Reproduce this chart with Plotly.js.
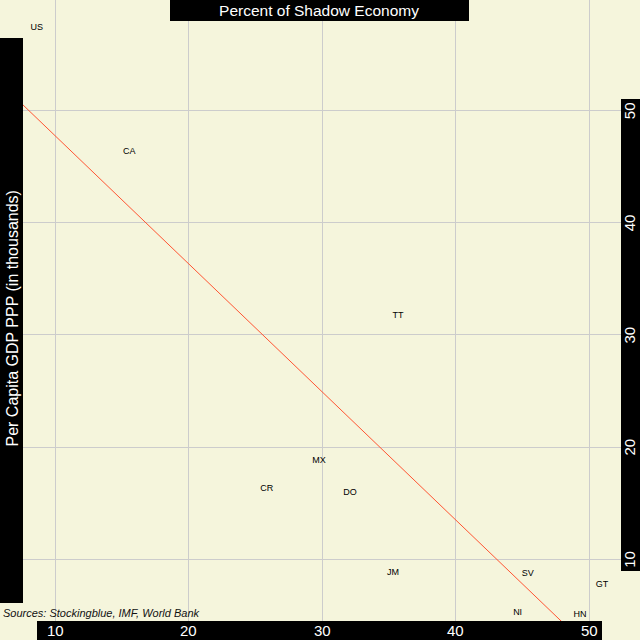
<!DOCTYPE html>
<html>
<head>
<meta charset="utf-8">
<script src="https://cdn.plot.ly/plotly-3.0.1.min.js"></script>
<style>html,body{margin:0;padding:0;background:#f5f5dc;}#chart{width:640px;height:640px;}</style>
</head>
<body>
<div id="chart"></div>
<script>
// Data
const countries = ["US","CA","TT","MX","CR","DO","JM","SV","GT","NI","HN"];
const shadowEconomy = [8.63, 15.56, 35.67, 29.76, 25.85, 32.08, 35.30, 45.38, 50.94, 44.63, 49.30];
const gdpPerCapita = [57.44, 46.34, 31.69, 18.79, 16.29, 15.94, 8.80, 8.75, 7.77, 5.27, 5.06];
const trendX = [5.9, 49.4];
const trendY = [52.46, 2.76];
const xTicks = [10, 20, 30, 40, 50];
const yTicks = [10, 20, 30, 40, 50];
const titleText = "Percent of Shadow Economy";
const yTitleText = "Per Capita GDP PPP (in thousands)";
const sourceText = "Sources: Stockingblue, IMF, World Bank";

const W = 640, H = 640;
const px = v => v / W;
const py = v => 1 - v / H;
const font = "Liberation Sans, Arial, sans-serif";

function bar(x0, y0, x1, y1) {
  return {type: "rect", xref: "paper", yref: "paper", layer: "above",
    x0: px(x0), x1: px(x1), y0: py(y1), y1: py(y0),
    fillcolor: "#000000", line: {width: 0}};
}

const annotations = [];
xTicks.forEach(v => annotations.push({
  xref: "x", yref: "paper", x: v, y: py(630.5), text: String(v), showarrow: false,
  xanchor: "center", yanchor: "middle", font: {family: font, size: 15, color: "#ffffff"}
}));
yTicks.forEach(v => annotations.push({
  xref: "paper", yref: "y", x: px(629.5), y: v, text: String(v), showarrow: false,
  textangle: -90, xanchor: "center", yanchor: "middle", font: {family: font, size: 15, color: "#ffffff"}
}));
annotations.push({
  xref: "paper", yref: "paper", x: px(11.5), y: py(319), text: yTitleText, showarrow: false,
  textangle: -90, xanchor: "center", yanchor: "middle", font: {family: font, size: 16, color: "#ffffff"}
});
annotations.push({
  xref: "paper", yref: "paper", x: px(1), y: py(612.5), text: "<i>" + sourceText + "</i>", showarrow: false,
  xanchor: "left", yanchor: "middle", font: {family: font, size: 11, color: "#111111"}
});

const traces = [
  {x: trendX, y: trendY, type: "scatter", mode: "lines", hoverinfo: "skip",
   line: {color: "#ff5533", width: 1}},
  {x: shadowEconomy, y: gdpPerCapita, text: countries, type: "scatter", mode: "text",
   textposition: "middle center", textfont: {family: font, size: 9, color: "#000000"}}
];

const layout = {
  width: W, height: H,
  margin: {l: 0, r: 0, t: 0, b: 0, pad: 0},
  paper_bgcolor: "#f5f5dc", plot_bgcolor: "#f5f5dc",
  showlegend: false,
  title: {text: titleText, font: {family: font, size: 15.5, color: "#ffffff"},
    x: px(319), y: py(10.5), xref: "paper", yref: "paper", xanchor: "center", yanchor: "middle"},
  xaxis: {range: [5.883, 53.79], tickvals: xTicks, showticklabels: false, ticks: "",
    showgrid: true, gridcolor: "#cccccc", gridwidth: 1, zeroline: false, showline: false},
  yaxis: {range: [2.80, 59.87], tickvals: yTicks, showticklabels: false, ticks: "",
    showgrid: true, gridcolor: "#cccccc", gridwidth: 1, zeroline: false, showline: false},
  shapes: [
    bar(170, 0, 469, 21),
    bar(0, 38, 23, 603),
    bar(621, 99, 640, 571),
    bar(37, 621, 602, 640)
  ],
  annotations: annotations
};

Plotly.newPlot("chart", traces, layout, {staticPlot: true, displayModeBar: false});
</script>
</body>
</html>
